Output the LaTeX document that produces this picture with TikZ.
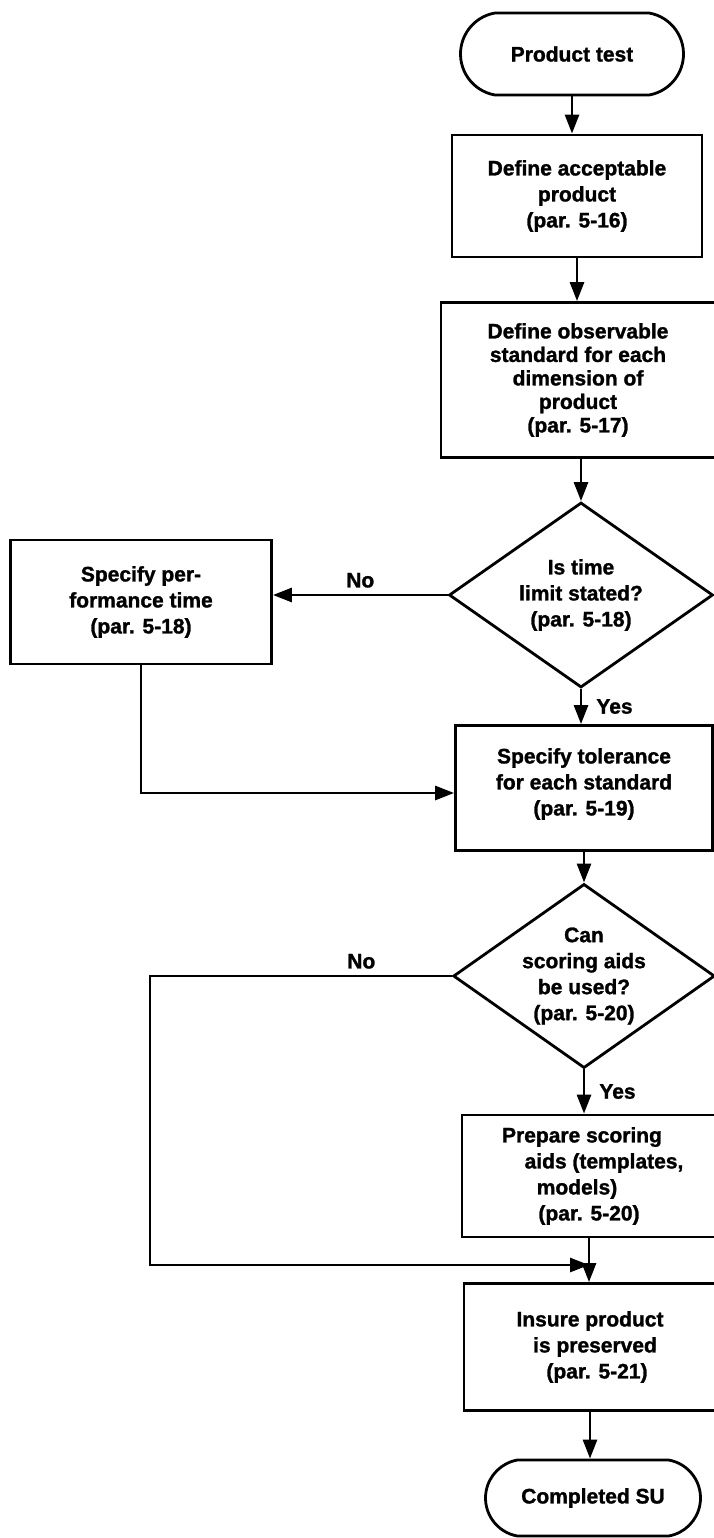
\documentclass[tikz,border=0pt]{standalone}
\usepackage{fontspec}
\setmainfont{Liberation Sans}[BoldFeatures={FakeBold=1.3}]
\usetikzlibrary{shapes.geometric,shapes.misc,arrows.meta,calc}
\begin{document}
\begin{tikzpicture}[x=1pt,y=-1pt,
  every node/.style={font=\fontsize{21}{26}\selectfont\bfseries, align=center, inner sep=0pt},
  flowline/.style={line width=2.8pt},
  flowarrow/.style={flowline,-{Triangle[length=19pt,width=14pt]}},
  stepbox/.style={draw, line width=2.8pt, rectangle},
  terminal/.style={draw, line width=2.8pt, rounded rectangle, rounded rectangle arc length=160},
  decision/.style={draw, line width=2.8pt, diamond, aspect=1.42},
  tag/.style={font=\fontsize{21}{24}\selectfont\bfseries}
]
% page frame
\clip (0,0) rectangle (714,1538);
\fill[white] (0,0) rectangle (714,1538);

% main column
\node[terminal, minimum width=223pt, minimum height=82pt] (start) at (572,54) {Product test};
\node[stepbox, minimum width=250pt, minimum height=122pt] (acc) at (577,196)
  {Define acceptable\\product\\(par. 5-16)};
\node[stepbox, minimum width=274pt, minimum height=155pt, font=\fontsize{21}{23.5}\selectfont\bfseries] (obs) at (578,380)
  {Define observable\\standard for each\\dimension of\\product\\(par. 5-17)};
\node[decision, minimum width=264pt, minimum height=185pt] (timeq) at (581,595)
  {Is time\\limit stated?\\(par. 5-18)};
\node[stepbox, minimum width=261pt, minimum height=124pt] (perf) at (141,602)
  {Specify per-\\formance time\\(par. 5-18)};
\node[stepbox, minimum width=257pt, minimum height=125pt] (tol) at (584,788)
  {Specify tolerance\\for each standard\\(par. 5-19)\vspace*{8pt}};
\node[decision, minimum width=259pt, minimum height=183pt] (scoreq) at (584,976)
  {Can\\scoring aids\\be used?\\(par. 5-20)};
\node[stepbox, minimum width=254pt, minimum height=122pt] (prep) at (589,1176)
  {\hspace*{-14pt}Prepare scoring\\\hspace*{30pt}aids (templates,\\\hspace*{-24pt}models)\\(par. 5-20)};
\node[stepbox, minimum width=252pt, minimum height=127pt] (keep) at (590,1347)
  {Insure product\\\hspace*{10pt}is preserved\\\hspace*{14pt}(par. 5-21)};
\node[terminal, minimum width=215pt, minimum height=76pt] (done) at (593,1498) {Completed SU};

% connector helpers
\coordinate (in3) at ($(tol.west)+(0,5)$);
\coordinate (rail) at (150,1265);
\coordinate (join) at (prep.south |- rail);

% connectors
\draw[flowarrow] (start.south) -- (start.south |- acc.north);
\draw[flowarrow] (acc.south) -- (acc.south |- obs.north);
\draw[flowarrow] (obs.south -| timeq.north) -- (timeq.north);
\draw[flowarrow] (timeq.west) -- (timeq.west -| perf.east)
  node[tag, midway, above=6pt] {No};
\draw[flowarrow] (perf.south) |- (in3);
\draw[flowarrow] (timeq.south) -- (timeq.south |- tol.north)
  node[tag, midway, right=14pt] {Yes};
\draw[flowarrow] (tol.south) -- (tol.south |- scoreq.north);
\draw[flowarrow] (scoreq.west) -- (scoreq.west -| rail)
  node[tag, pos=0.3, above=6pt] {No} -- (rail) -- (join);
\draw[flowarrow] (scoreq.south) -- (scoreq.south |- prep.north)
  node[tag, midway, right=14pt] {Yes};
\draw[flowarrow] (prep.south) -- (prep.south |- keep.north);
\draw[flowarrow] (keep.south) -- (keep.south |- done.north);
\end{tikzpicture}
\end{document}
